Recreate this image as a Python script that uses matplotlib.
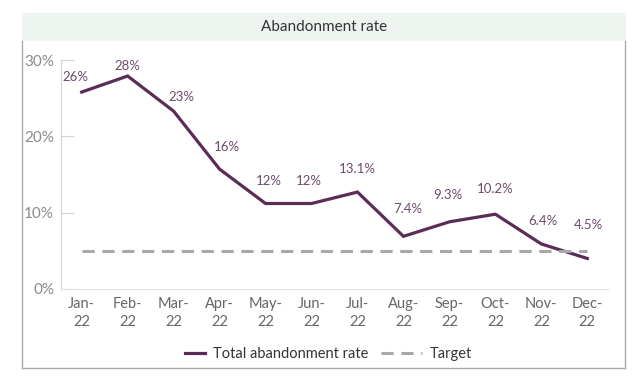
import matplotlib.pyplot as plt
from matplotlib.lines import Line2D
from matplotlib.patches import Rectangle
from matplotlib.legend_handler import HandlerLine2D

plt.rcParams['font.family'] = ['Lato', 'DejaVu Sans']

months = ['Jan-\n22', 'Feb-\n22', 'Mar-\n22', 'Apr-\n22', 'May-\n22', 'Jun-\n22',
          'Jul-\n22', 'Aug-\n22', 'Sep-\n22', 'Oct-\n22', 'Nov-\n22', 'Dec-\n22']
abandonment = [25.8, 27.9, 23.3, 15.7, 11.2, 11.2, 12.7, 6.9, 8.8, 9.8, 5.9, 4.0]
point_labels = ['26%', '28%', '23%', '16%', '12%', '12%', '13.1%', '7.4%', '9.3%',
                '10.2%', '6.4%', '4.5%']
target = [5, 5, 5, 5, 5, 5, 5, 5, 5, 5, 5, 5]
yticks = [0, 10, 20, 30]

# label nudges (pixels) so the value labels sit where they do in the source chart
label_dx = [-6, 0, 8, 7, 3, -3, 0, 4, -2, 0, 2, 1]
label_dy = [15, 10, 14, 22, 23, 23, 23, 27, 27, 25, 23, 33]

line_color = '#5b2c57'
label_color = '#6e4b6a'
target_color = '#a8a8a8'
axis_color = '#d4d4d4'
W, H = 640, 378


class ShortLine(HandlerLine2D):
    # shorter legend handle for the solid line
    def get_xdata(self, legend, xdescent, ydescent, width, height, fontsize):
        x0 = width * 0.5 - xdescent
        x1 = width - xdescent
        return [x0, x1], [x0, x1]


fig = plt.figure(figsize=(6.4, 3.78), dpi=100)

# title bar and frame
fig.patches.append(Rectangle((22 / W, 1 - 41 / H), 604 / W, 28 / H, transform=fig.transFigure,
                             facecolor='#eef4f0', edgecolor='none', zorder=0))
fig.text(324 / W, 1 - 27 / H, 'Abandonment rate', ha='center', va='center',
         fontsize=11, color='#333333')
for xs, ys in [([22, 22], [41, 368]), ([625, 625], [41, 368]), ([22, 625], [368, 368])]:
    fig.lines.append(Line2D([x / W for x in xs], [1 - y / H for y in ys],
                            transform=fig.transFigure, color='#a9a9a9', lw=1))

ax = fig.add_axes([61 / W, 1 - 289 / H, 547 / W, 229 / H])
x = list(range(len(months)))
solid, = ax.plot(x, abandonment, color=line_color, lw=2.3, label='Total abandonment rate',
                 solid_joinstyle='miter')
ax.plot(x, target, color=target_color, lw=2.2, ls=(0, (4, 2.5)), label='Target')

for xi, v, s, dx, dy in zip(x, abandonment, point_labels, label_dx, label_dy):
    ax.annotate(s, (xi, v), xytext=(dx * 0.72, dy * 0.72), textcoords='offset points',
                ha='center', va='center', fontsize=9.5, color=label_color)

ax.set_xlim(-0.45, 11.45)
ax.set_ylim(0, 30)
ax.set_xticks(x)
ax.set_xticklabels(months, fontsize=10.5, color='#666666', linespacing=1.3)
ax.set_yticks(yticks)
ax.set_yticklabels([f'{t}%' for t in yticks], fontsize=11, color='#8a8a8a')
ax.tick_params(axis='x', length=0, pad=6)
ax.tick_params(axis='y', direction='in', length=9, color=axis_color, pad=5)
for side in ['top', 'right']:
    ax.spines[side].set_visible(False)
for side in ['left', 'bottom']:
    ax.spines[side].set_color(axis_color)
ax.spines['bottom'].set_color('#e2e2e2')

fig.legend(loc='center', bbox_to_anchor=(318 / W, 1 - 354 / H), ncol=2, frameon=False,
           fontsize=10.5, handlelength=2.8, columnspacing=0.9, handletextpad=0.5,
           labelcolor='#333333', handler_map={solid: ShortLine()})

fig.savefig('out.png', dpi=100)
